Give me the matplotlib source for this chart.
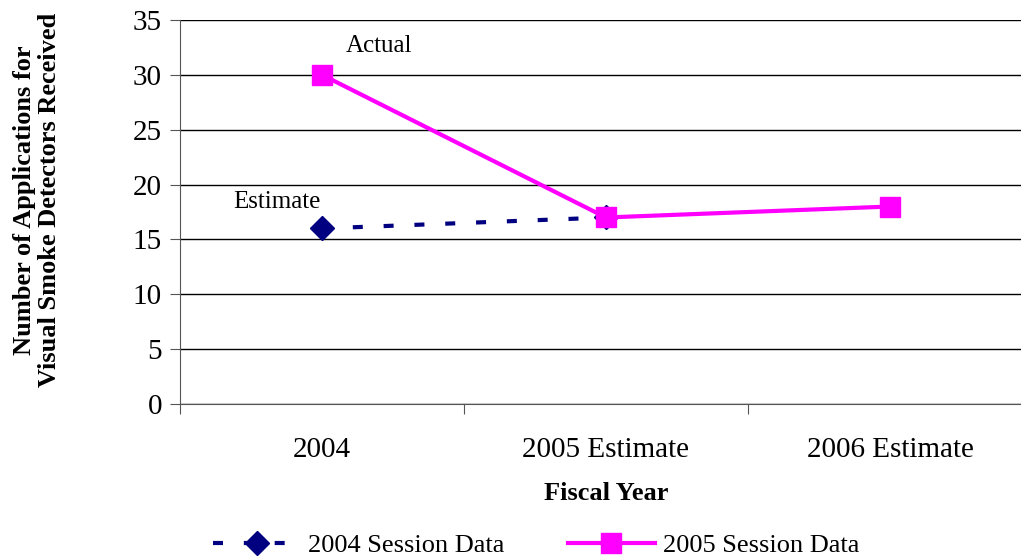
import matplotlib.pyplot as plt

plt.rcParams['font.family'] = ['Liberation Serif', 'DejaVu Serif']

# data
years = ['2004', '2005 Estimate', '2006 Estimate']
session_2004 = [16, 17]
session_2005 = [30, 17, 18]

W, H = 1021, 556
fig = plt.figure(figsize=(W / 100, H / 100), dpi=100)
ax = fig.add_axes([180 / W, 1 - 404 / H, (1032 - 180) / W, (404 - 20) / H])

x = list(range(len(years)))
ax.plot(x[:2], session_2004, color='#000080', linestyle=(0, (2.4, 5)), linewidth=3,
        marker='D', markersize=12, label='2004 Session Data', zorder=3)
ax.plot(x, session_2005, color='#ff00ff', linewidth=3,
        marker='s', markersize=14, label='2005 Session Data', zorder=4)

ax.set_xlim(-0.5, 2.5)
ax.set_ylim(0, 35)
ax.set_yticks(range(0, 36, 5))
ax.set_xticks([-0.5, 0.5, 1.5, 2.5])
ax.set_xticklabels([])
ax.set_xticks(x, years, minor=True)
ax.tick_params(axis='x', which='minor', length=0, pad=24, labelsize=21)
ax.tick_params(axis='x', which='major', length=7, direction='out', color='#555555')
ax.tick_params(axis='y', length=7, direction='out', labelsize=21, pad=6, color='#555555')

ax.grid(axis='y', color='black', linewidth=1)
ax.set_axisbelow(True)
for s in ['top', 'right']:
    ax.spines[s].set_visible(False)
ax.spines['left'].set_color('#555555')
ax.spines['bottom'].set_color('#555555')

ax.text(0.2, 32.6, 'Actual', fontsize=18, ha='center', va='center')
ax.text(-0.16, 18.4, 'Estimate', fontsize=18, ha='center', va='center')

fig.text(37 / W, 1 - 200 / H, 'Number of Applications for\nVisual Smoke Detectors Received',
         rotation=90, ha='center', va='center', fontsize=19, fontweight='bold', linespacing=1.12)
fig.text(606 / W, 1 - 494 / H, 'Fiscal Year', ha='center', va='center',
         fontsize=19, fontweight='bold')

fig.legend(loc='center', bbox_to_anchor=(536 / W, 1 - 545 / H), ncol=2, frameon=False,
           fontsize=19, handlelength=3.3, columnspacing=2.4, handletextpad=0.3,
           borderaxespad=0)

fig.savefig('out.png', dpi=100)
